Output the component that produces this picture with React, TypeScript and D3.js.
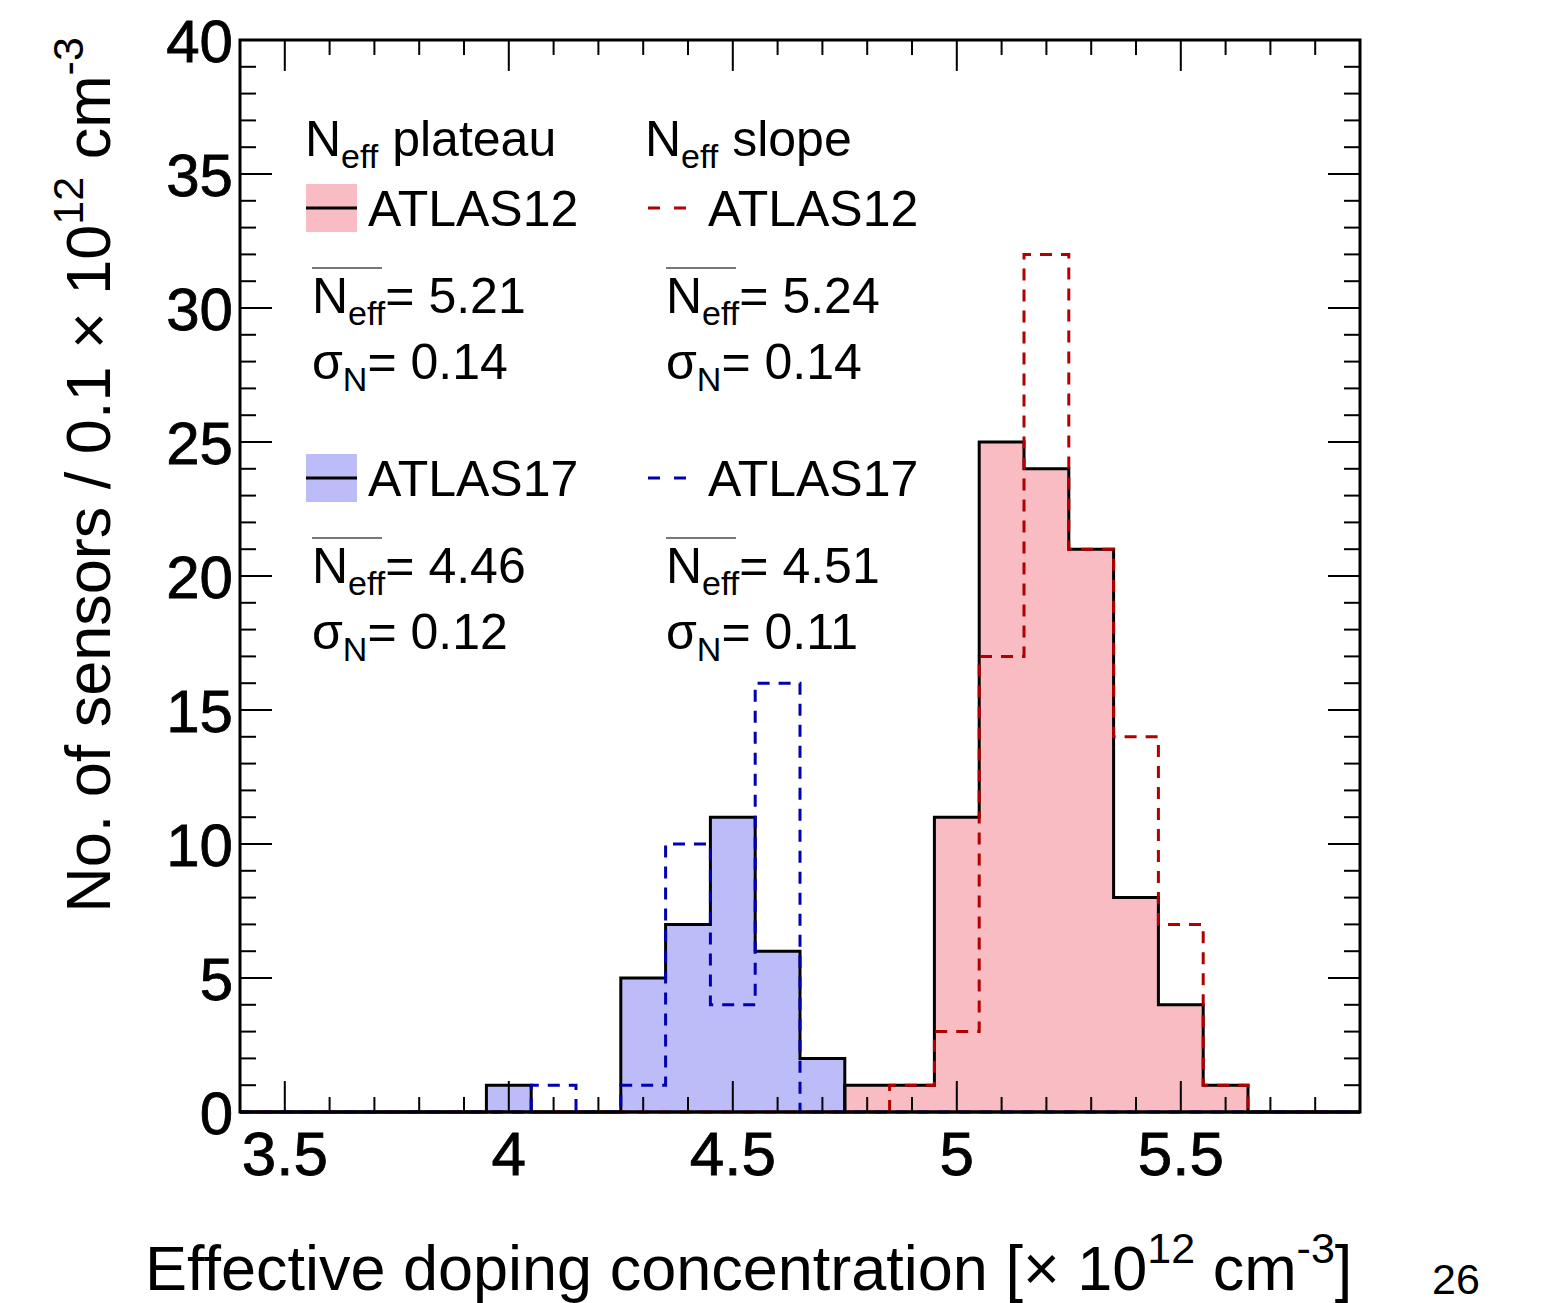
import * as d3 from 'd3';

// bin centres (width 0.1) covering the plotted range
const binCenters = [3.4, 3.5, 3.6, 3.7, 3.8, 3.9, 4.0, 4.1, 4.2, 4.3, 4.4, 4.5, 4.6, 4.7, 4.8, 4.9, 5.0, 5.1, 5.2, 5.3, 5.4, 5.5, 5.6, 5.7, 5.8, 5.9];

const a12Plateau = [0, 0, 0, 0, 0, 0, 0, 0, 0, 0, 0, 0, 0, 0, 1, 1, 11, 25, 24, 21, 8, 4, 1, 0, 0, 0];
const a12Slope   = [0, 0, 0, 0, 0, 0, 0, 0, 0, 0, 0, 0, 0, 0, 0, 1, 3, 17, 32, 21, 14, 7, 1, 0, 0, 0];
const a17Plateau = [0, 0, 0, 0, 0, 0, 1, 0, 0, 5, 7, 11, 6, 2, 0, 0, 0, 0, 0, 0, 0, 0, 0, 0, 0, 0];
const a17Slope   = [0, 0, 0, 0, 0, 0, 0, 1, 0, 1, 10, 4, 16, 0, 0, 0, 0, 0, 0, 0, 0, 0, 0, 0, 0, 0];

const xMajor = [3.5, 4, 4.5, 5, 5.5];
const yMajor = [0, 5, 10, 15, 20, 25, 30, 35, 40];

const stats = [
  { col: 0, row: 0, mean: '5.21', sigma: '0.14' },
  { col: 1, row: 0, mean: '5.24', sigma: '0.14' },
  { col: 0, row: 1, mean: '4.46', sigma: '0.12' },
  { col: 1, row: 1, mean: '4.51', sigma: '0.11' },
];

const FONT = '"Liberation Sans", Arial, Helvetica, sans-serif';
const PINK = '#f8bcc2';
const LBLUE = '#bcbcf9';
const DRED = '#b00000';
const DBLUE = '#0000b0';

const margin = { left: 240, top: 40, right: 187, bottom: 191 };
const W = 1547, H = 1303;
const pw = W - margin.left - margin.right;
const ph = H - margin.top - margin.bottom;

const x = d3.scaleLinear().domain([3.4, 5.9]).range([0, pw]);
const y = d3.scaleLinear().domain([0, 40]).range([ph, 0]);

const stepPoints = (counts: number[]): [number, number][] => {
  const pts: [number, number][] = binCenters.map((c, i) => [c - 0.05, counts[i]]);
  pts.push([binCenters[binCenters.length - 1] + 0.05, counts[counts.length - 1]]);
  return pts;
};

const line = d3.line<[number, number]>().x(d => x(d[0])).y(d => y(d[1])).curve(d3.curveStepAfter);
const area = d3.area<[number, number]>().x(d => x(d[0])).y0(y(0)).y1(d => y(d[1])).curve(d3.curveStepAfter);

const minorX = d3.range(35, 60).map(v => v / 10);
const minorY = d3.range(0, 41);

const Neff = ({ xx, yy, fs }: { xx: number; yy: number; fs: number }) => (
  <>
    <tspan x={xx} y={yy}>N</tspan>
    <tspan fontSize={fs * 0.68} dy={fs * 0.24}>eff</tspan>
  </>
);

export default function App() {
  const fs = 50;
  const cx = [312, 666];
  const rowY = [0, 270];
  const tf = 63; // axis title font
  const sup = 43;
  return (
    <svg width={W} height={H} style={{ display: 'block', position: 'absolute', left: 0, top: 0 }} fontFamily={FONT}>
      <rect width={W} height={H} fill="white" />
      <defs>
        <clipPath id="plotclip">
          <rect x={0} y={-5} width={pw} height={ph + 10} />
        </clipPath>
      </defs>
      <g transform={`translate(${margin.left},${margin.top})`}>
        <g clipPath="url(#plotclip)">
          <path d={area(stepPoints(a12Plateau)) ?? ''} fill={PINK} />
          <path d={area(stepPoints(a17Plateau)) ?? ''} fill={LBLUE} />
          <path d={line(stepPoints(a12Plateau)) ?? ''} fill="none" stroke="black" strokeWidth={3} />
          <path d={line(stepPoints(a17Plateau)) ?? ''} fill="none" stroke="black" strokeWidth={3} />
          <path d={line(stepPoints(a12Slope)) ?? ''} fill="none" stroke={DRED} strokeWidth={3} strokeDasharray="12,9" />
          <path d={line(stepPoints(a17Slope)) ?? ''} fill="none" stroke={DBLUE} strokeWidth={3} strokeDasharray="12,9" />
        </g>

        {/* ticks */}
        {minorX.map(v => {
          const major = xMajor.some(m => Math.abs(m - v) < 1e-6);
          const len = major ? 31 : 15;
          return (
            <g key={'xt' + v} stroke="black" strokeWidth={2}>
              <line x1={x(v)} x2={x(v)} y1={ph} y2={ph - len} />
              <line x1={x(v)} x2={x(v)} y1={0} y2={len} />
            </g>
          );
        })}
        {minorY.map(v => {
          const len = v % 5 === 0 ? 32 : 16;
          return (
            <g key={'yt' + v} stroke="black" strokeWidth={2}>
              <line x1={0} x2={len} y1={y(v)} y2={y(v)} />
              <line x1={pw} x2={pw - len} y1={y(v)} y2={y(v)} />
            </g>
          );
        })}
        <rect x={0} y={0} width={pw} height={ph} fill="none" stroke="black" strokeWidth={3} />

        {/* tick labels */}
        {yMajor.map(v => (
          <text key={'yl' + v} x={-7} y={y(v) + 22} textAnchor="end" fontSize={60} stroke="black" strokeWidth={0.8}>{v}</text>
        ))}
        {xMajor.map(v => (
          <text key={'xl' + v} x={x(v)} y={ph + 63} textAnchor="middle" fontSize={62} stroke="black" strokeWidth={0.8}>{v}</text>
        ))}
      </g>

      {/* axis titles */}
      <text transform="translate(110,475) rotate(-90)" textAnchor="middle" fontSize={tf}>
        No. of sensors / 0.1 × 10<tspan fontSize={sup} dy={-27}>12</tspan>
        <tspan dy={27}> cm</tspan><tspan fontSize={sup} dy={-27}>-3</tspan>
      </text>
      <text x={145} y={1290} fontSize={tf}>
        Effective doping concentration [× 10<tspan fontSize={sup} dy={-27}>12</tspan>
        <tspan dy={27}> cm</tspan><tspan fontSize={sup} dy={-27}>-3</tspan><tspan dy={27}>]</tspan>
      </text>
      <text x={1432} y={1294} fontSize={43}>26</text>

      {/* legend headers */}
      <text fontSize={fs}>
        <Neff xx={305} yy={156} fs={fs} />
        <tspan dy={-fs * 0.24}> plateau</tspan>
      </text>
      <text fontSize={fs}>
        <Neff xx={645} yy={156} fs={fs} />
        <tspan dy={-fs * 0.24}> slope</tspan>
      </text>

      {/* legend entries */}
      {[{ fill: PINK, dash: DRED, label: 'ATLAS12' }, { fill: LBLUE, dash: DBLUE, label: 'ATLAS17' }].map((e, r) => {
        const ly = 208 + rowY[r];
        return (
          <g key={e.label}>
            <rect x={306} y={ly - 24} width={51} height={48} fill={e.fill} />
            <line x1={306} x2={357} y1={ly} y2={ly} stroke="black" strokeWidth={3} />
            <text x={368} y={ly + 18} fontSize={fs}>{e.label}</text>
            <line x1={648} x2={686} y1={ly} y2={ly} stroke={e.dash} strokeWidth={3} strokeDasharray="12,14" />
            <text x={708} y={ly + 18} fontSize={fs}>{e.label}</text>
          </g>
        );
      })}

      {/* mean / sigma */}
      {stats.map(s => {
        const xx = cx[s.col];
        const by = 313 + rowY[s.row];
        return (
          <g key={s.col + '-' + s.row}>
            <line x1={xx} x2={xx + 70} y1={by - 45} y2={by - 45} stroke="#777" strokeWidth={2} />
            <text fontSize={fs}>
              <Neff xx={xx} yy={by} fs={fs} />
              <tspan dy={-fs * 0.24}>= {s.mean}</tspan>
            </text>
            <text fontSize={fs} x={xx} y={by + 66}>
              σ<tspan fontSize={fs * 0.68} dy={fs * 0.24}>N</tspan>
              <tspan dy={-fs * 0.24}>= {s.sigma}</tspan>
            </text>
          </g>
        );
      })}
    </svg>
  );
}
